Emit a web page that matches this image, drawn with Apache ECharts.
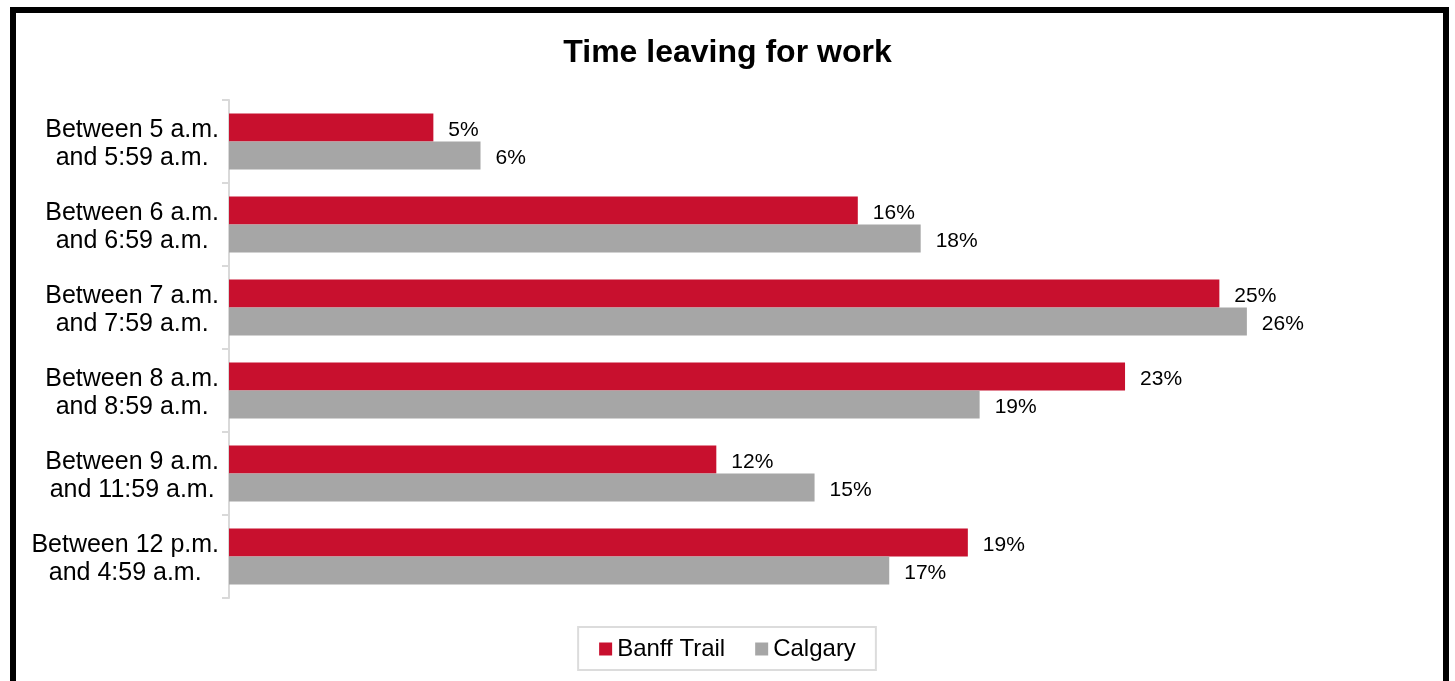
<!DOCTYPE html>
<html>
<head>
<meta charset="utf-8">
<script src="https://cdn.jsdelivr.net/npm/echarts@6/dist/echarts.min.js"></script>
<style>
  html, body { margin: 0; padding: 0; background: #fff; }
  #chart { width: 1455px; height: 681px; }
</style>
</head>
<body>
<div id="chart"></div>
<script>
const categories = [
    'Between 5 a.m.\nand 5:59 a.m.',
    'Between 6 a.m.\nand 6:59 a.m.',
    'Between 7 a.m.\nand 7:59 a.m.',
    'Between 8 a.m.\nand 8:59 a.m.',
    'Between 9 a.m.\nand 11:59 a.m.',
    'Between 12 p.m.\nand 4:59 a.m.'
];
const banffTrail = [5.2, 16.0, 25.2, 22.8, 12.4, 18.8];
const calgary = [6.4, 17.6, 25.9, 19.1, 14.9, 16.8];

const colors = ['#C8102E', '#A6A6A6'];
const font = 'Arial, "Liberation Sans", sans-serif';

var chartDom = document.getElementById('chart');
var myChart = echarts.init(chartDom);

const valueLabel = {
    show: true,
    position: 'right',
    distance: 15,
    offset: [0, 3],
    color: '#000',
    fontSize: 21,
    fontFamily: font,
    formatter: (p) => Math.round(p.value) + '%'
};

var option = {
    color: colors,
    animation: false,
    title: {
        text: 'Time leaving for work',
        left: 'center',
        top: 32,
        textStyle: { fontSize: 32, fontWeight: 'bold', color: '#000', fontFamily: font }
    },
    legend: {
        data: ['Banff Trail', 'Calgary'],
        left: 'center',
        top: 627,
        padding: [10, 20, 9, 21],
        itemWidth: 13,
        itemHeight: 13,
        itemGap: 30,
        borderColor: '#dcdcdc',
        borderWidth: 2,
        icon: 'rect',
        textStyle: { fontSize: 24, color: '#000', fontFamily: font, padding: [2, 0, 0, 0] }
    },
    graphic: [{
        type: 'rect',
        shape: { x: 13, y: 10, width: 1433, height: 720 },
        style: { fill: 'none', stroke: '#000', lineWidth: 6 },
        silent: true
    }],
    grid: { left: 229, right: 47, top: 100, bottom: 83 },
    xAxis: {
        type: 'value',
        min: 0,
        max: 30,
        show: false
    },
    yAxis: {
        type: 'category',
        inverse: true,
        data: categories,
        axisLine: { show: true, lineStyle: { color: '#d9d9d9', width: 2 } },
        axisTick: { show: true, length: 7, lineStyle: { color: '#d9d9d9', width: 2 } },
        axisLabel: {
            margin: 10,
            align: 'right',
            color: '#000',
            fontSize: 25,
            fontFamily: font,
            lineHeight: 28,
            padding: [5, 0, 0, 0],
            formatter: (v) => v.split('\n').map(s => '{c|' + s + '}').join('\n'),
            rich: {
                c: { align: 'center', fontSize: 25, lineHeight: 28, color: '#000', fontFamily: font }
            }
        }
    },
    series: [
        {
            name: 'Banff Trail',
            type: 'bar',
            barWidth: 28,
            barGap: '0%',
            label: valueLabel,
            data: banffTrail
        },
        {
            name: 'Calgary',
            type: 'bar',
            barWidth: 28,
            barGap: '0%',
            label: valueLabel,
            data: calgary
        }
    ]
};

option && myChart.setOption(option);
</script>
</body>
</html>
